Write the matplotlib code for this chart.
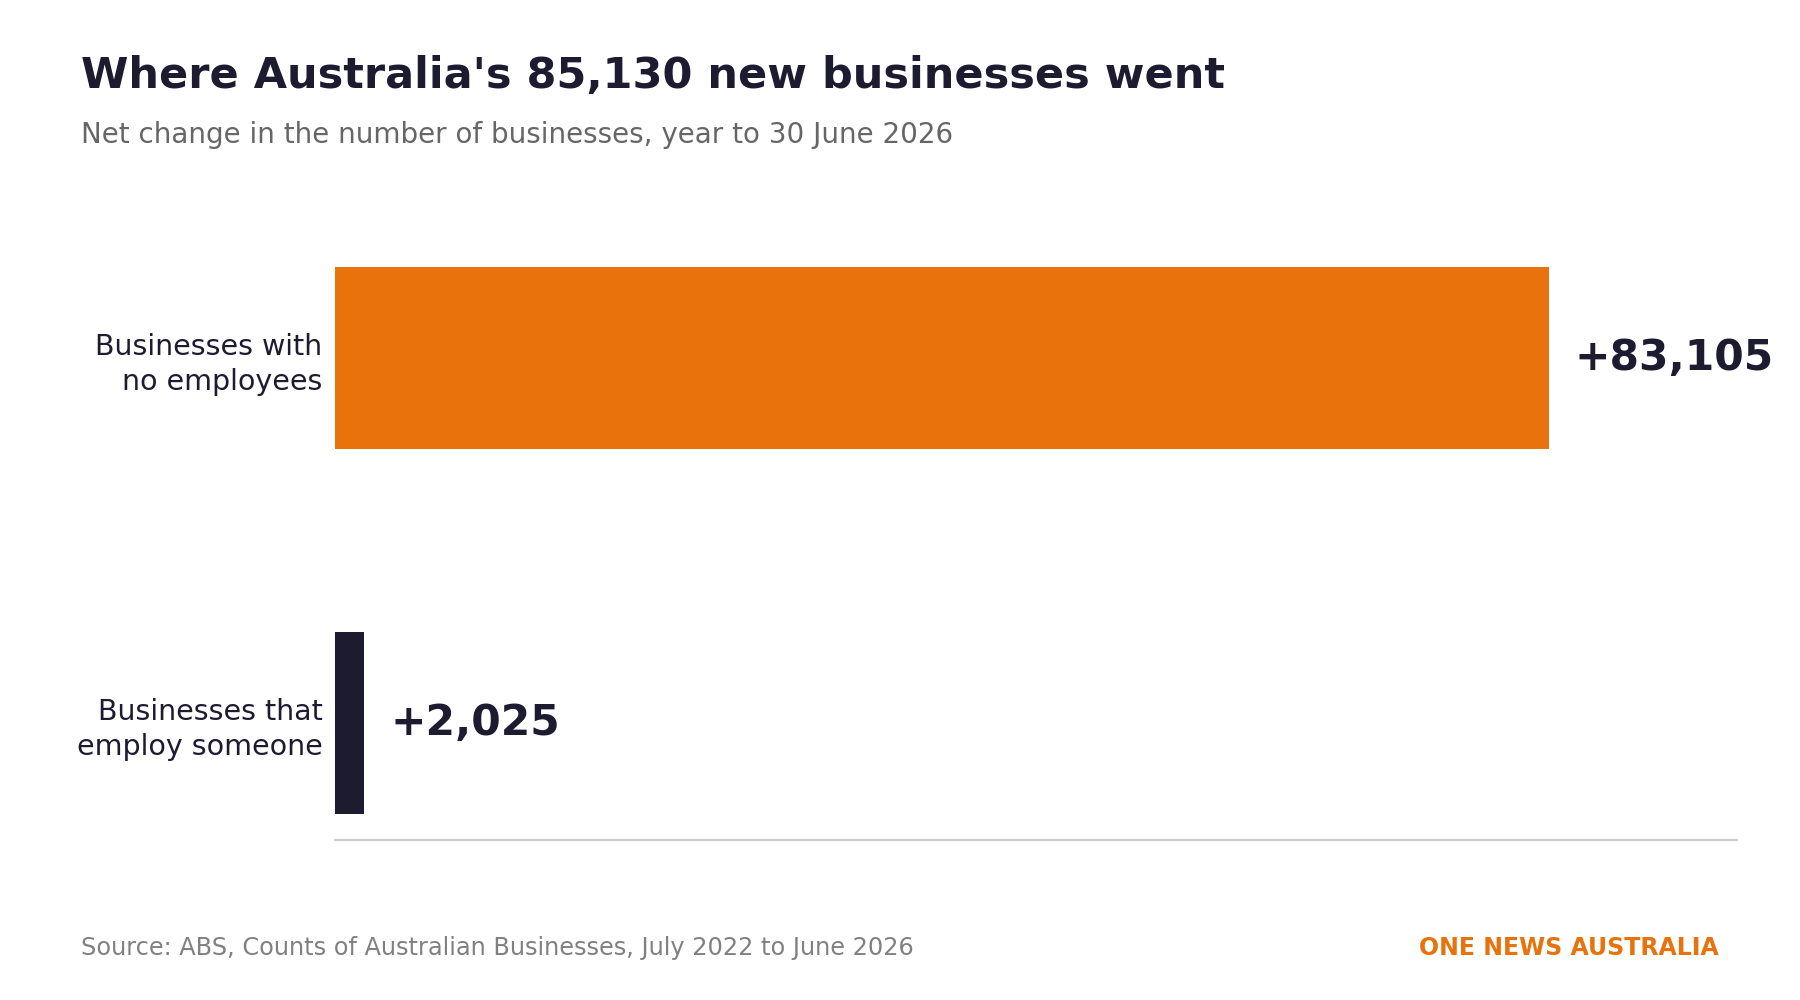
import matplotlib.pyplot as plt

categories = ['Businesses with\nno employees', 'Businesses that\nemploy someone']
values = [83105, 2025]
labels = ['+83,105', '+2,025']
colors = ['#e8720c', '#1d1b30']

DARK = '#1d1b30'

fig = plt.figure(figsize=(18, 10), dpi=100)
ax = fig.add_axes([0.186, 0.16, 0.779, 0.573])

ypos = list(range(len(values)))
ax.barh(ypos, values, height=0.5, color=colors, linewidth=0)
ax.set_xlim(0, 96000)
ax.set_ylim(1.32, -0.25)
for y, v, lab in zip(ypos, values, labels):
    ax.text(v + 1800, y, lab, ha='left', va='center', fontsize=30.5,
            fontweight='bold', color=DARK)

ax.set_yticks(ypos)
ax.set_yticklabels(categories, fontsize=20.5, color=DARK, linespacing=1.3)
ax.tick_params(axis='y', length=0, pad=9)
ax.set_xticks([])
for s in ['top', 'right', 'left']:
    ax.spines[s].set_visible(False)
ax.spines['bottom'].set_color('#cccccc')
ax.spines['bottom'].set_linewidth(1.5)

fig.text(0.045, 0.924, "Where Australia's 85,130 new businesses went",
         fontsize=31, fontweight='bold', color=DARK, va='center')
fig.text(0.045, 0.865, 'Net change in the number of businesses, year to 30 June 2026',
         fontsize=20, color='#666666', va='center')
fig.text(0.045, 0.052, 'Source: ABS, Counts of Australian Businesses, July 2022 to June 2026',
         fontsize=17.3, color='#808080', va='center')
fig.text(0.955, 0.052, 'ONE NEWS AUSTRALIA', fontsize=17, fontweight='bold',
         color='#e8720c', ha='right', va='center')

fig.savefig('out.png')
